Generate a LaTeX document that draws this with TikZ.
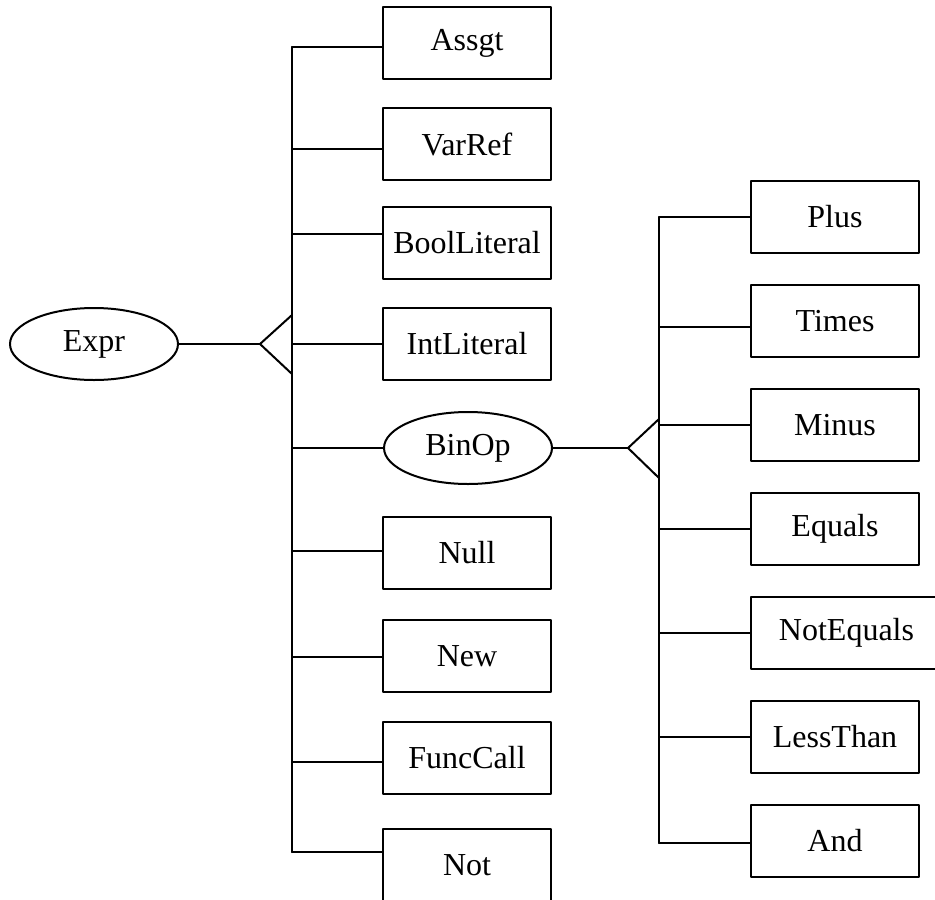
\documentclass[tikz,border=0pt]{standalone}
\usepackage{fontspec}
\setmainfont{Liberation Serif}
\usetikzlibrary{shapes.geometric}

\begin{document}
\begin{tikzpicture}[line cap=round,line join=round,x=0.5pt,y=-0.5pt,line width=1pt,
	box/.style={draw,rectangle,minimum width=84pt,minimum height=36pt,inner sep=0pt,font=\fontsize{16}{19}\selectfont},
	oval/.style={draw,ellipse,minimum width=84pt,minimum height=36pt,inner sep=0pt,font=\fontsize{16}{19}\selectfont}]
	\useasboundingbox (0,0) rectangle (935,899);
	\node[oval] (expr) at (94,344) {Expr};
	\coordinate (ea) at (260,344);
	\coordinate (et) at (292,344);
		\node[box] (assgt) at (467,43) {Assgt};
		\node[box] (varref) at (467,144) {VarRef};
		\node[box] (boolLit) at (467,243) {BoolLiteral};
		\node[box] (intLit) at (467,344) {IntLiteral};
		\node[oval] (binop) at (468,448) {BinOp};
		\node[box] (null) at (467,553) {Null};
		\node[box] (new) at (467,656) {New};
		\node[box] (funcCall) at (467,758) {FuncCall};
		\node[box] (not) at (467,865) {Not};
	\draw (expr) -- (ea);
	\draw (292,315) -- (ea) -- (292,374);
	\foreach \n/\d in {assgt/-2,varref/-2.5,boolLit/4.5,intLit/0,binop/0,null/1,new/-0.5,funcCall/-2,not/6.5}{
		\coordinate (c-\n) at ([yshift=\d pt]\n.west);
		\draw (et |- c-\n) -- (c-\n);
	}
	\draw (et |- c-assgt) -- (et |- c-not);
	\coordinate (ba) at (628,448);
	\coordinate (bt) at (659,448);
		\node[box] (plus) at (835,217) {Plus};
		\node[box] (times) at (835,321) {Times};
		\node[box] (minus) at (835,425) {Minus};
		\node[box] (equals) at (835,529) {Equals};
		\node[box,minimum width=95.5pt] (notEquals) at (846.5,633) {NotEquals};
		\node[box] (lessThan) at (835,737) {LessThan};
		\node[box] (and) at (835,841) {And};
	\draw (binop) -- (ba);
	\draw (659,419) -- (ba) -- (659,478);
	\foreach \n/\d in {plus/0,times/-3,minus/0,equals/0,notEquals/0,lessThan/0,and/-1}{
		\coordinate (c-\n) at ([yshift=\d pt]\n.west);
		\draw (bt |- c-\n) -- (c-\n);
	}
	\draw (bt |- c-plus) -- (bt |- c-and);
\end{tikzpicture}
\end{document}
